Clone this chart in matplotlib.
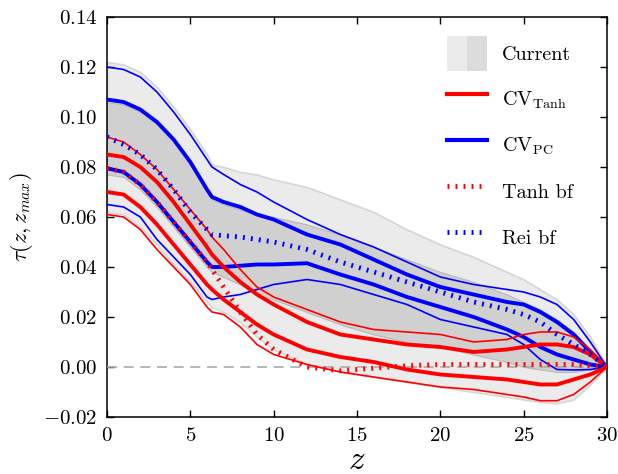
import matplotlib
matplotlib.use("Agg")
import matplotlib.pyplot as plt
from matplotlib.patches import Patch
from matplotlib.lines import Line2D
from matplotlib.legend_handler import HandlerTuple

plt.rcParams['font.family'] = ['cmr10', 'DejaVu Serif']
plt.rcParams['mathtext.fontset'] = 'cm'
plt.rcParams['axes.formatter.use_mathtext'] = True
plt.rcParams['axes.unicode_minus'] = True

# ---- data ----
z = [0, 1, 2, 3, 4, 5, 6, 6.3, 7, 8, 9, 10, 12, 14, 16, 18, 20, 22, 24, 25, 26, 27, 28, 29, 30]

current_outer_up = [0.122, 0.121, 0.118, 0.112, 0.104, 0.095, 0.085, 0.081, 0.080, 0.078, 0.077, 0.075, 0.072, 0.067, 0.062, 0.055, 0.049, 0.044, 0.038, 0.035, 0.031, 0.027, 0.021, 0.012, 0.0]
current_outer_lo = [0.062, 0.061, 0.056, 0.049, 0.041, 0.034, 0.026, 0.024, 0.022, 0.018, 0.012, 0.007, 0.001, -0.002, -0.004, -0.006, -0.008, -0.010, -0.012, -0.013, -0.014, -0.0145, -0.013, -0.007, 0.0]
current_inner_up = [0.106, 0.105, 0.102, 0.097, 0.090, 0.081, 0.070, 0.067, 0.065, 0.063, 0.061, 0.060, 0.057, 0.053, 0.048, 0.043, 0.038, 0.034, 0.029, 0.026, 0.023, 0.019, 0.014, 0.007, 0.0]
current_inner_lo = [0.077, 0.076, 0.071, 0.064, 0.056, 0.048, 0.040, 0.038, 0.036, 0.033, 0.029, 0.027, 0.022, 0.017, 0.013, 0.010, 0.008, 0.005, 0.002, 0.000, -0.001, -0.002, -0.002, -0.001, 0.0]

pc_thin_up = [0.120, 0.119, 0.116, 0.110, 0.102, 0.093, 0.083, 0.080, 0.077, 0.073, 0.070, 0.066, 0.059, 0.053, 0.048, 0.042, 0.036, 0.033, 0.031, 0.030, 0.028, 0.025, 0.019, 0.010, 0.0]
pc_thick_up = [0.107, 0.106, 0.103, 0.098, 0.091, 0.082, 0.071, 0.068, 0.066, 0.064, 0.061, 0.059, 0.053, 0.049, 0.043, 0.037, 0.032, 0.029, 0.026, 0.025, 0.022, 0.018, 0.013, 0.006, 0.0]
pc_thick_lo = [0.0795, 0.078, 0.073, 0.066, 0.058, 0.050, 0.042, 0.040, 0.040, 0.0405, 0.041, 0.041, 0.0415, 0.037, 0.033, 0.028, 0.024, 0.020, 0.015, 0.012, 0.008, 0.005, 0.003, 0.001, 0.0]
pc_thin_lo = [0.065, 0.064, 0.060, 0.051, 0.044, 0.037, 0.028, 0.027, 0.028, 0.029, 0.031, 0.033, 0.035, 0.033, 0.029, 0.025, 0.019, 0.016, 0.013, 0.009, 0.003, -0.001, -0.0012, -0.001, 0.0]

tanh_thin_up = [0.092, 0.090, 0.085, 0.079, 0.071, 0.063, 0.055, 0.052, 0.047, 0.039, 0.032, 0.028, 0.023, 0.018, 0.015, 0.014, 0.013, 0.010, 0.011, 0.013, 0.014, 0.014, 0.012, 0.007, 0.0]
tanh_thick_up = [0.085, 0.084, 0.080, 0.074, 0.066, 0.057, 0.048, 0.045, 0.040, 0.034, 0.029, 0.025, 0.018, 0.013, 0.011, 0.009, 0.008, 0.006, 0.007, 0.008, 0.009, 0.009, 0.008, 0.005, 0.0]
tanh_thick_lo = [0.070, 0.069, 0.064, 0.057, 0.049, 0.041, 0.033, 0.031, 0.027, 0.022, 0.017, 0.013, 0.007, 0.004, 0.002, -0.001, -0.003, -0.004, -0.005, -0.006, -0.007, -0.007, -0.005, -0.003, 0.0]
tanh_thin_lo = [0.061, 0.060, 0.055, 0.047, 0.040, 0.033, 0.024, 0.022, 0.021, 0.016, 0.009, 0.005, 0.001, -0.002, -0.004, -0.006, -0.008, -0.009, -0.011, -0.012, -0.0135, -0.0135, -0.011, -0.006, 0.0]

tanh_bf = [0.0795, 0.078, 0.073, 0.066, 0.058, 0.050, 0.042, 0.039, 0.032, 0.022, 0.013, 0.007, 0.000, -0.0015, -0.0005, 0.0005, 0.001, 0.001, 0.001, 0.001, 0.001, 0.001, 0.001, 0.0005, 0.0]
rei_bf = [0.092, 0.089, 0.085, 0.079, 0.071, 0.062, 0.055, 0.053, 0.0525, 0.052, 0.051, 0.050, 0.047, 0.042, 0.038, 0.034, 0.030, 0.026, 0.023, 0.021, 0.018, 0.013, 0.009, 0.005, 0.0]

legend_labels = ['Current', r'CV$_{\mathrm{Tanh}}$', r'CV$_{\mathrm{PC}}$', 'Tanh bf', 'Rei bf']
yticks = [-0.02, 0.00, 0.02, 0.04, 0.06, 0.08, 0.10, 0.12, 0.14]
xticks = [0, 5, 10, 15, 20, 25, 30]

# ---- figure ----
fig = plt.figure(figsize=(6.18, 4.74), dpi=100)
ax = fig.add_axes([0.1731, 0.1203, 0.8091, 0.8438])

light = '#ebebeb'
dark = '#d0d0d0'
ax.fill_between(z, current_outer_lo, current_outer_up, facecolor=light, edgecolor='#d6d6d6', lw=1.2, zorder=1)
ax.fill_between(z, current_inner_lo, current_inner_up, facecolor=dark, edgecolor='#b8b8b8', lw=0.8, zorder=2)

ax.axhline(0, color='#aaaaaa', lw=1.2, dashes=(6, 4), zorder=3)

red = '#ff0000'
blue = '#0000ff'
thin = 1.2
thick = 2.8
for vals, c, w in [(pc_thin_up, blue, thin), (pc_thin_lo, blue, thin),
                   (pc_thick_up, blue, thick), (pc_thick_lo, blue, thick),
                   (tanh_thin_up, red, thin), (tanh_thin_lo, red, thin),
                   (tanh_thick_up, red, thick), (tanh_thick_lo, red, thick)]:
    ax.plot(z, vals, color=c, lw=w, zorder=4, solid_joinstyle='round')

dot = (0, (0.4, 1.25))
ax.plot(z, tanh_bf, color=red, lw=3.5, linestyle=dot, dash_capstyle='butt', zorder=5)
ax.plot(z, rei_bf, color=blue, lw=3.5, linestyle=dot, dash_capstyle='butt', zorder=5)

ax.set_xlim(0, 30)
ax.set_ylim(-0.02, 0.14)
ax.set_xticks(xticks)
ax.set_yticks(yticks)
ax.tick_params(direction='in', length=5, width=1, top=True, right=True, labelsize=15, pad=7)
for s in ax.spines.values():
    s.set_linewidth(1.1)

ax.set_xlabel(r'$z$', fontsize=24, labelpad=1)
ax.set_ylabel(r'$\tau(z,z_{max})$', fontsize=16, labelpad=6)

handles = [(Patch(facecolor=light, edgecolor='none'), Patch(facecolor='#dcdcdc', edgecolor='none')),
           Line2D([], [], color=red, lw=3),
           Line2D([], [], color=blue, lw=3),
           Line2D([], [], color=red, lw=3.5, linestyle=dot, dash_capstyle='butt'),
           Line2D([], [], color=blue, lw=3.5, linestyle=dot, dash_capstyle='butt')]
ax.legend(handles, legend_labels, loc='upper right', frameon=False, fontsize=14.5,
          handler_map={tuple: HandlerTuple(ndivide=None, pad=0)},
          handlelength=2.0, handleheight=2.3, handletextpad=0.75, labelspacing=0.55,
          borderaxespad=0, bbox_to_anchor=(0.948, 0.9725))

fig.savefig('out.png', dpi=100)
